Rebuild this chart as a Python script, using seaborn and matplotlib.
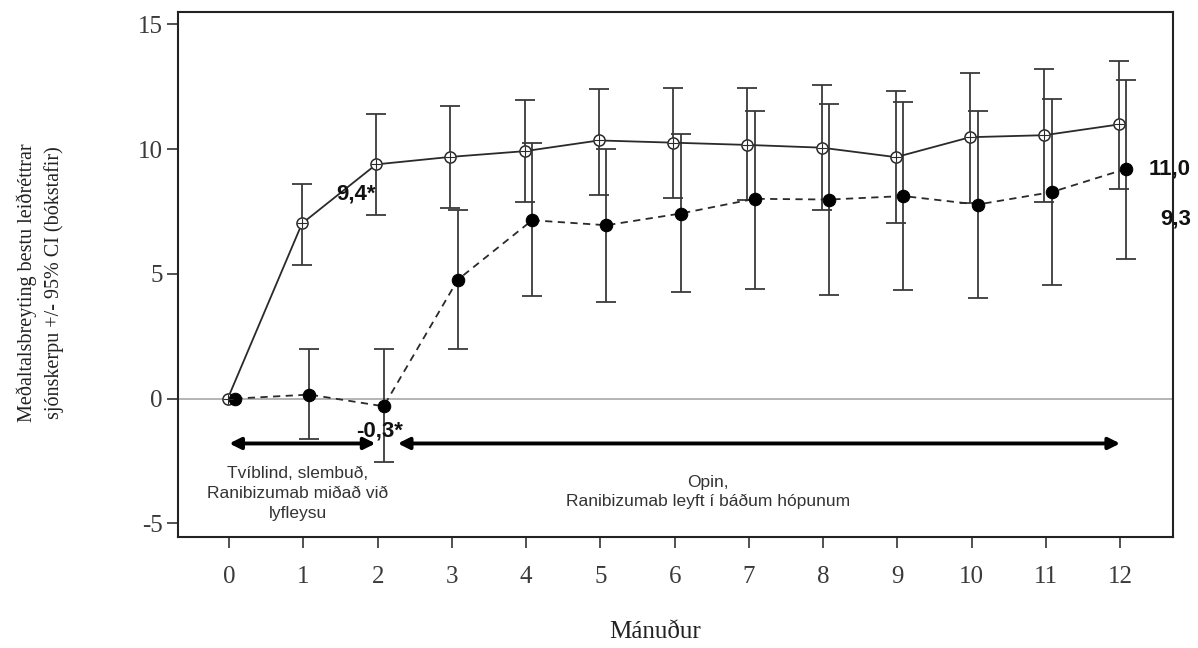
import seaborn as sns
import matplotlib.pyplot as plt
import numpy as np
import pandas as pd

months = list(range(13))

# Ranibizumab (open circles, solid line)
rani_mean = [0.0, 7.02, 9.39, 9.69, 9.92, 10.35, 10.26, 10.17, 10.06, 9.68, 10.48, 10.56, 10.99]
rani_low = [np.nan, 5.37, 7.38, 7.65, 7.87, 8.17, 8.04, 7.95, 7.58, 7.02, 7.85, 7.88, 8.41]
rani_high = [np.nan, 8.61, 11.39, 11.73, 11.98, 12.42, 12.46, 12.46, 12.57, 12.33, 13.04, 13.22, 13.53]

# Lyfleysa -> Ranibizumab (filled circles, dashed line)
plac_mean = [0.0, 0.16, -0.31, 4.77, 7.15, 6.95, 7.42, 8.01, 7.98, 8.12, 7.78, 8.28, 9.21]
plac_low = [np.nan, -1.62, -2.55, 1.99, 4.13, 3.86, 4.28, 4.40, 4.16, 4.35, 4.04, 4.55, 5.60]
plac_high = [np.nan, 1.97, 1.97, 7.58, 10.25, 10.02, 10.59, 11.53, 11.82, 11.88, 11.55, 12.02, 12.77]

yticks = [-5, 0, 5, 10, 15]

sns.set_style("ticks")
plt.rcParams['font.family'] = ['Liberation Serif', 'DejaVu Serif']

fig = plt.figure(figsize=(11.98, 6.48), dpi=100)
ax = fig.add_axes([0.1486, 0.1713, 0.8304, 0.8102])

x_r = np.array(months) - 0.02
x_p = np.array(months) + 0.08
df = pd.DataFrame({"x_r": x_r, "x_p": x_p, "rani": rani_mean, "plac": plac_mean})

ax.axhline(0, color='#a8a8a8', linewidth=1.2, zorder=1)

ecol = '#3a3a3a'
# confidence intervals
ax.errorbar(x_r[1:], rani_mean[1:],
            yerr=[np.array(rani_mean[1:]) - np.array(rani_low[1:]),
                  np.array(rani_high[1:]) - np.array(rani_mean[1:])],
            fmt='none', ecolor=ecol, elinewidth=1.3, capsize=7, capthick=1.3, zorder=2)
ax.errorbar(x_p[1:], plac_mean[1:],
            yerr=[np.array(plac_mean[1:]) - np.array(plac_low[1:]),
                  np.array(plac_high[1:]) - np.array(plac_mean[1:])],
            fmt='none', ecolor=ecol, elinewidth=1.3, capsize=7, capthick=1.3, zorder=2)

# mean lines
sns.lineplot(data=df, x="x_r", y="rani", ax=ax, color='#2a2a2a', linewidth=1.3,
             marker='o', markersize=8, markerfacecolor='white', markeredgecolor='#2a2a2a',
             markeredgewidth=1.1, zorder=3)
ax.plot(x_r, rani_mean, linestyle='none', marker='+', markersize=7,
        color='#2a2a2a', markeredgewidth=0.8, zorder=4)
sns.lineplot(data=df, x="x_p", y="plac", ax=ax, color='#2a2a2a', linewidth=1.3,
             linestyle=(0, (4, 3)), marker='o', markersize=9, markerfacecolor='black',
             markeredgecolor='black', zorder=3)

# periods
arrow = dict(arrowstyle='<|-|>', color='black', lw=2.8, mutation_scale=17,
             shrinkA=0, shrinkB=0)
ax.annotate('', xy=(0.0, -1.8), xytext=(1.97, -1.8), arrowprops=arrow)
ax.annotate('', xy=(2.27, -1.8), xytext=(12.0, -1.8), arrowprops=arrow)

sans = ['Liberation Sans', 'DejaVu Sans']
ax.text(0.92, -2.7, 'Tvíblind, slembuð,\nRanibizumab miðað við\nlyfleysu', family=sans,
        fontsize=12.5, color='#333333', ha='center', va='top', linespacing=1.4)
ax.text(6.45, -3.05, 'Opin,\nRanibizumab leyft í báðum hópunum', family=sans,
        fontsize=12.5, color='#333333', ha='center', va='top', linespacing=1.35)

bold = dict(family=sans, fontsize=16, fontweight='bold', va='center', color='#111111')
ax.text(1.71, 8.22, '9,4*', ha='center', **bold)
ax.text(2.02, -1.31, '-0,3*', ha='center', **bold)
ax.text(12.95, 9.22, '11,0', ha='right', clip_on=False, **bold)
ax.text(12.95, 7.18, '9,3', ha='right', clip_on=False, **bold)

ax.set_xlim(-0.69, 12.71)
ax.set_ylim(-5.55, 15.5)
ax.set_xticks(months)
ax.set_yticks(yticks)
ax.set_xticklabels([str(m) for m in months])
ax.set_yticklabels([str(t) for t in yticks])
ax.set_xlabel('')
ax.set_ylabel('')
ax.tick_params(axis='both', labelsize=18, length=8, width=1.2, color='#333333',
               labelcolor='#3a3a3a')
ax.tick_params(axis='x', pad=13)
ax.tick_params(axis='y', pad=3)
for s in ax.spines.values():
    s.set_linewidth(1.5)
    s.set_color('#222222')

fig.text(655 / 1198, 1 - 632 / 648, 'Mánuður', fontsize=18, color='#222222',
         ha='center', va='center')
fig.text(40 / 1198, 1 - 283 / 648,
         'Meðaltalsbreyting bestu leiðréttrar\nsjónskerpu +/- 95% CI (bókstafir)',
         fontsize=14.5, color='#222222', rotation=90, ha='center', va='center',
         linespacing=1.5)

fig.savefig('out.png', dpi=100)
